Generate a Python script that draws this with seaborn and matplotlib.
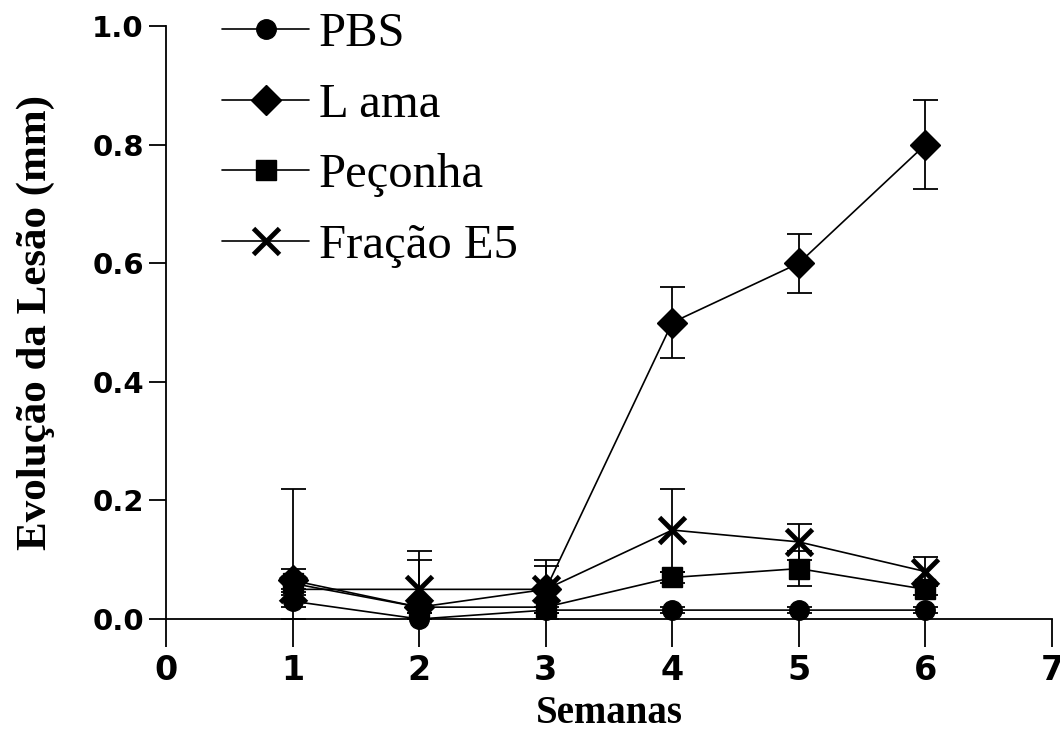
import numpy as np
import pandas as pd
import seaborn as sns
import matplotlib.pyplot as plt

# values (mm)
semanas = [1, 2, 3, 4, 5, 6]
grupos = ["PBS", "L ama", "Peçonha", "Fração E5"]
pbs = [0.03, 0.00, 0.015, 0.015, 0.015, 0.015]
pbs_err = [0.01, 0.01, 0.005, 0.005, 0.005, 0.005]
lama = [0.065, 0.02, 0.05, 0.50, 0.60, 0.80]
lama_err = [0.02, 0.08, 0.04, 0.06, 0.05, 0.075]
peconha = [0.06, 0.02, 0.02, 0.07, 0.085, 0.05]
peconha_err = [0.01, 0.01, 0.01, 0.01, 0.03, 0.01]
e5 = [0.05, 0.05, 0.05, 0.15, 0.13, 0.08]
e5_err = [0.17, 0.065, 0.05, 0.07, 0.03, 0.025]

sns.set_style("ticks")
plt.rcParams["font.family"] = ["Liberation Serif", "DejaVu Serif"]
plt.rcParams["text.color"] = "black"
plt.rcParams["xtick.color"] = "black"
plt.rcParams["ytick.color"] = "black"
plt.rcParams["axes.labelcolor"] = "black"

series = [(pbs, pbs_err, "o", 14), (lama, lama_err, "D", 15),
          (peconha, peconha_err, "s", 14), (e5, e5_err, "x", 19)]

fig = plt.figure(figsize=(10.6, 7.42), dpi=100)
ax = fig.add_axes([166 / 1060, 1 - 619 / 742, 886 / 1060, 593 / 742])

for nome, (vals, err, mk, ms) in zip(grupos, series):
    df = pd.DataFrame({"Semanas": semanas, "valor": vals})
    # bars do not go below zero
    lower = np.minimum(err, vals)
    ax.errorbar(df["Semanas"], df["valor"], yerr=[lower, err], fmt="none", ecolor="black",
                elinewidth=1.3, capsize=9, capthick=1.3, clip_on=False, zorder=2)
    sns.lineplot(data=df, x="Semanas", y="valor", ax=ax, color="black", linewidth=1.2,
                 marker=mk, markersize=ms, markeredgecolor="black",
                 markeredgewidth=3.5 if mk == "x" else 1, label=nome,
                 clip_on=False, zorder=3)

ax.set_xlim(0, 7)
ax.set_ylim(0, 1.0)
ax.set_xticks(range(0, 8))
ax.set_yticks(np.arange(0, 1.01, 0.2))
ax.set_yticklabels([f"{v:.1f}" for v in np.arange(0, 1.01, 0.2)],
                   family="DejaVu Sans", fontweight="bold", fontsize=21)
ax.set_xticklabels([str(i) for i in range(8)], family="DejaVu Sans",
                   fontweight="bold", fontsize=24)
ax.tick_params(axis="y", direction="out", length=12, width=1.3, pad=4)
ax.tick_params(axis="x", direction="out", length=20, width=1.3, pad=5)
for s in ["top", "right"]:
    ax.spines[s].set_visible(False)
for s in ["left", "bottom"]:
    ax.spines[s].set_linewidth(1.3)
    ax.spines[s].set_color("black")

ax.set_xlabel("Semanas", fontsize=28, fontweight="bold", labelpad=6)
ax.set_ylabel("Evolução da Lesão (mm)", fontsize=31, fontweight="bold", labelpad=27)

leg = ax.legend(loc="upper left", bbox_to_anchor=(0.063, 1.024), frameon=False,
                fontsize=35, handlelength=1.8, handletextpad=0.2, labelspacing=0.55,
                borderpad=0, borderaxespad=0)

plt.savefig("out.png", dpi=100)
